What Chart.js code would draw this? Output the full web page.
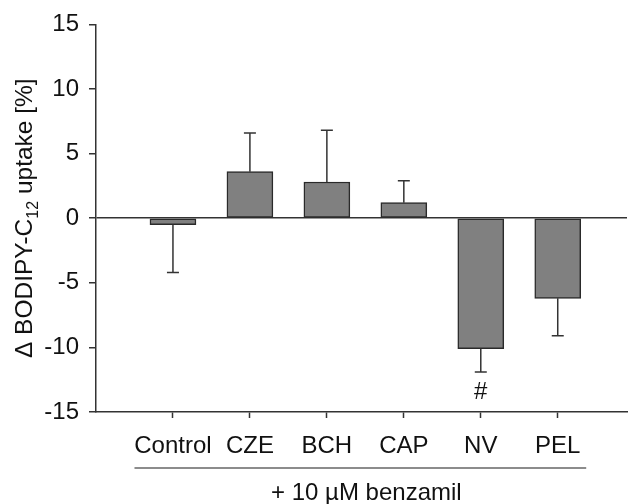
<!DOCTYPE html>
<html>
<head>
<meta charset="utf-8">
<script src="https://cdn.jsdelivr.net/npm/chart.js@4"></script>
<style>
  html, body { margin: 0; padding: 0; background: #fff; }
  #wrap { width: 628px; height: 504px; position: relative; }
</style>
</head>
<body>
<div id="wrap"><canvas id="myChart"></canvas></div>
<script>
// data
const categories = ['Control', 'CZE', 'BCH', 'CAP', 'NV', 'PEL'];
const means = [-0.5, 3.6, 2.8, 1.2, -10.1, -6.2];
const errors = [3.7, 3.0, 4.0, 1.7, 1.8, 2.9];
const marks = ['', '', '', '', '#', ''];
const yMin = -15, yMax = 15, yStep = 5;
const groupLabel = '+ 10 \u00B5M benzamil';

const FONT = "'Liberation Sans', Arial, sans-serif";
const INK = '#333';

const points = categories.map((c, i) => ({ x: i + 1, y: means[i] }));

// error bars (one sided, away from zero) + significance marks
const errorBars = {
    id: 'errorBars',
    afterDatasetsDraw(chart) {
        const ctx = chart.ctx;
        const ys = chart.scales.y;
        const meta = chart.getDatasetMeta(0);
        ctx.save();
        ctx.strokeStyle = INK;
        ctx.lineWidth = 1.5;
        meta.data.forEach((bar, i) => {
            const v = means[i];
            const end = v >= 0 ? v + errors[i] : v - errors[i];
            const y0 = ys.getPixelForValue(v);
            const y1 = ys.getPixelForValue(end);
            ctx.beginPath();
            ctx.moveTo(bar.x, y0);
            ctx.lineTo(bar.x, y1);
            ctx.moveTo(bar.x - 6, y1);
            ctx.lineTo(bar.x + 6, y1);
            ctx.stroke();
            if (marks[i]) {
                ctx.fillStyle = '#111';
                ctx.font = '24px ' + FONT;
                ctx.textAlign = 'center';
                ctx.textBaseline = 'middle';
                ctx.fillText(marks[i], bar.x, y1 + 20);
            }
        });
        ctx.restore();
    }
};

// y title with subscript, and the group line + label under the x axis
const extras = {
    id: 'extras',
    afterDraw(chart) {
        const ctx = chart.ctx;
        const xs = chart.scales.x;
        const area = chart.chartArea;
        ctx.save();
        ctx.fillStyle = '#111';

        // group line
        ctx.strokeStyle = '#666';
        ctx.lineWidth = 1.5;
        ctx.beginPath();
        ctx.moveTo(xs.getPixelForValue(0.5), 468);
        ctx.lineTo(xs.getPixelForValue(6.37), 468);
        ctx.stroke();

        ctx.font = '24px ' + FONT;
        ctx.textAlign = 'center';
        ctx.textBaseline = 'alphabetic';
        ctx.fillText(groupLabel, xs.getPixelForValue(3.5) + 1, 500);

        // rotated y title
        const parts = [
            { t: '\u0394 BODIPY-C', size: 24.5, dy: 0 },
            { t: '12', size: 16, dy: 6 },
            { t: ' uptake [%]', size: 24.5, dy: 0 }
        ];
        let total = 0;
        parts.forEach(p => { ctx.font = p.size + 'px ' + FONT; p.w = ctx.measureText(p.t).width; total += p.w; });
        ctx.translate(32, (area.top + area.bottom) / 2);
        ctx.rotate(-Math.PI / 2);
        ctx.textAlign = 'left';
        let x = -total / 2;
        parts.forEach(p => {
            ctx.font = p.size + 'px ' + FONT;
            ctx.fillText(p.t, x, p.dy);
            x += p.w;
        });
        ctx.restore();
    }
};

var ctx = document.getElementById('myChart').getContext('2d');

var myChart = new Chart(ctx, {
    type: 'bar',
    data: {
        datasets: [
            {
                data: points,
                backgroundColor: '#808080',
                borderColor: '#2a2a2a',
                borderWidth: 1.5,
                borderSkipped: false,
                barThickness: 46
            }
        ]
    },
    plugins: [errorBars, extras],
    options: {
        responsive: true,
        maintainAspectRatio: false,
        animation: false,
        layout: { padding: { top: 24, right: 1, left: 0, bottom: 0 } },
        plugins: {
            legend: { display: false },
            tooltip: { enabled: false }
        },
        scales: {
            x: {
                type: 'linear',
                min: 0,
                max: 6.9,
                offset: false,
                afterFit: s => { s.height = 92; },
                afterBuildTicks: s => { s.ticks = s.ticks.filter(t => t.value >= 1 && t.value <= 6); },
                border: { color: INK, width: 1.5 },
                grid: { offset: false, drawOnChartArea: false, tickLength: 6, tickColor: INK, tickWidth: 1.5 },
                ticks: {
                    stepSize: 1,
                    includeBounds: false,
                    autoSkip: false,
                    maxRotation: 0,
                    padding: 14,
                    color: '#111',
                    font: { family: FONT, size: 24 },
                    callback: v => categories[v - 1] || ''
                }
            },
            y: {
                min: yMin,
                max: yMax,
                afterFit: s => { s.width = 96; },
                border: { color: INK, width: 1.5 },
                grid: {
                    drawOnChartArea: true,
                    color: c => (c.tick && c.tick.value === 0) ? INK : 'rgba(0,0,0,0)',
                    lineWidth: 1.5,
                    tickLength: 7,
                    tickColor: INK,
                    tickWidth: 1.5
                },
                ticks: {
                    stepSize: yStep,
                    padding: 10,
                    color: '#111',
                    font: { family: FONT, size: 24 }
                }
            }
        }
    }
});
</script>
</body>
</html>
